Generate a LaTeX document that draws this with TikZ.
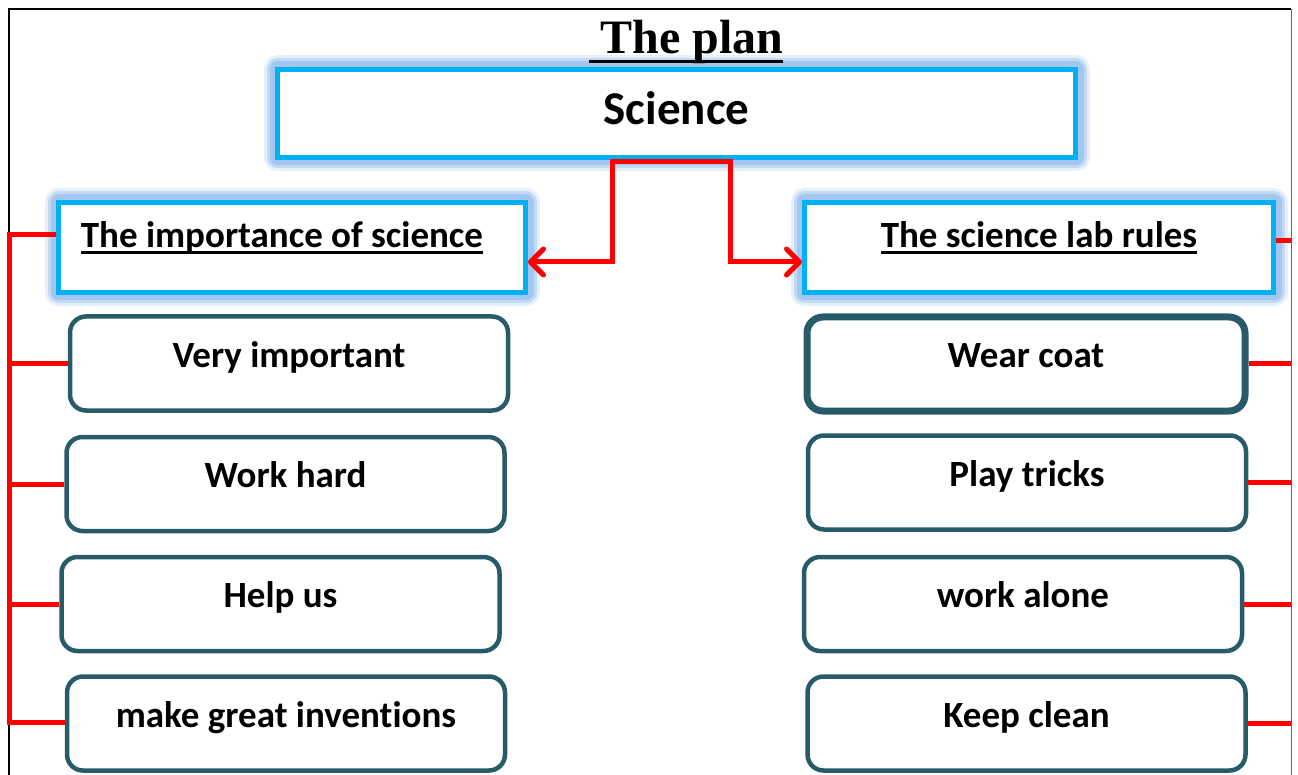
\documentclass[tikz,border=0pt]{standalone}
\usepackage{fontspec}
\setmainfont{Carlito}[Ligatures=NoCommon]
\newfontfamily\titlefont{Liberation Serif}
\usetikzlibrary{arrows.meta}

\definecolor{skycyan}{HTML}{00B0F0}
\definecolor{glowblue}{HTML}{9DC3EE}
\definecolor{slateteal}{HTML}{285B69}
% underline at a fixed depth below the baseline
\newcommand{\undl}[2][6.5pt]{\setbox0\hbox{#2}\rlap{\rule[-#1]{\wd0}{3pt}}\box0}

\tikzset{
  glowbox/.style={draw=skycyan, line width=5pt, fill=white, inner sep=0pt,
    preaction={draw=glowblue, line width=28pt, opacity=.25, line join=round},
    preaction={draw=glowblue, line width=22pt, opacity=.5, line join=round},
    preaction={draw=glowblue, line width=16pt, opacity=.85, line join=round}},
  itembox/.style={draw=slateteal, rounded corners=16pt, fill=white,
    minimum width=438pt, minimum height=94pt, text height=30pt, text depth=23pt,
    font=\bfseries\fontsize{37}{44}\selectfont},
  redlink/.style={draw=red, line width=5pt}
}

\begin{document}
\begin{tikzpicture}[x=1pt,y=-1pt]
    \useasboundingbox (0,0) rectangle (1298,775);
    % page frame
    \draw [line width=2pt] (9,775) -- (9,9) -- (1291,9);
    \draw [line width=1pt, gray!80!black] (1291,9) -- (1291,775);

    \node [glowbox, minimum width=798pt, minimum height=88pt, text height=34pt, text depth=11pt,
        font=\bfseries\fontsize{47}{56}\selectfont] (sci) at (676.5,113.5) {Science};
    \node [glowbox, minimum width=467pt, minimum height=90pt, text height=20pt, text depth=20pt,
        font=\bfseries\fontsize{37}{44}\selectfont] (hdL) at (292,247.5)
        {\undl{The importance of science}\kern20pt};
    \node [glowbox, minimum width=469pt, minimum height=90pt, text height=20pt, text depth=20pt,
        font=\bfseries\fontsize{37}{44}\selectfont] (hdR) at (1039,247.5)
        {\undl{The science lab rules}};
    \node [font=\titlefont\bfseries\fontsize{48}{56}\selectfont, anchor=base, inner sep=0pt]
        (title) at (686,54) {\undl[9pt]{\kern12pt The plan}};

    \foreach \n/\x/\y/\t in {1/289/363.5/Very important, 2/285.5/484/Work hard,
        3/280.5/604/Help us, 4/286/723.5/make great inventions} {
        \node [itembox, line width=4.5pt] (bxL\n) at (\x,\y) {\t};
    }
    \foreach \n/\x/\y/\w/\t in {1/1026/364/7/Wear coat, 2/1027/482.5/4.5/Play tricks,
        3/1023/604/4.5/work alone, 4/1026.5/723.5/4.5/Keep clean} {
        \node [itembox, line width=\w pt] (bxR\n) at (\x,\y) {\t};
    }

    % connectors
    \coordinate (forkL) at (612,162);
    \coordinate (forkR) at (730,162);
    \draw [redlink, {Straight Barb[length=13pt,width=26pt,round]}-{Straight Barb[length=13pt,width=26pt,round]}]
        (hdL.east |- 0,262) -| (forkL) -- (forkR) |- (hdR.west |- 0,262);

    \coordinate (brTop) at (9,235);
    \coordinate (brBot) at (9,722);
    \draw [redlink] (hdL.west |- brTop) -- (brTop) -- (brBot) -- (bxL4.west |- brBot);
    \foreach \n in {1,2,3} \draw [redlink] (bxL\n.west) -- (bxL\n.west -| brTop);

    \coordinate (rtEdge) at (1291,241);
    \draw [redlink] (hdR.east |- rtEdge) -- (rtEdge);
    \foreach \n in {1,...,4} \draw [redlink] (bxR\n.east) -- (bxR\n.east -| rtEdge);
\end{tikzpicture}
\end{document}
